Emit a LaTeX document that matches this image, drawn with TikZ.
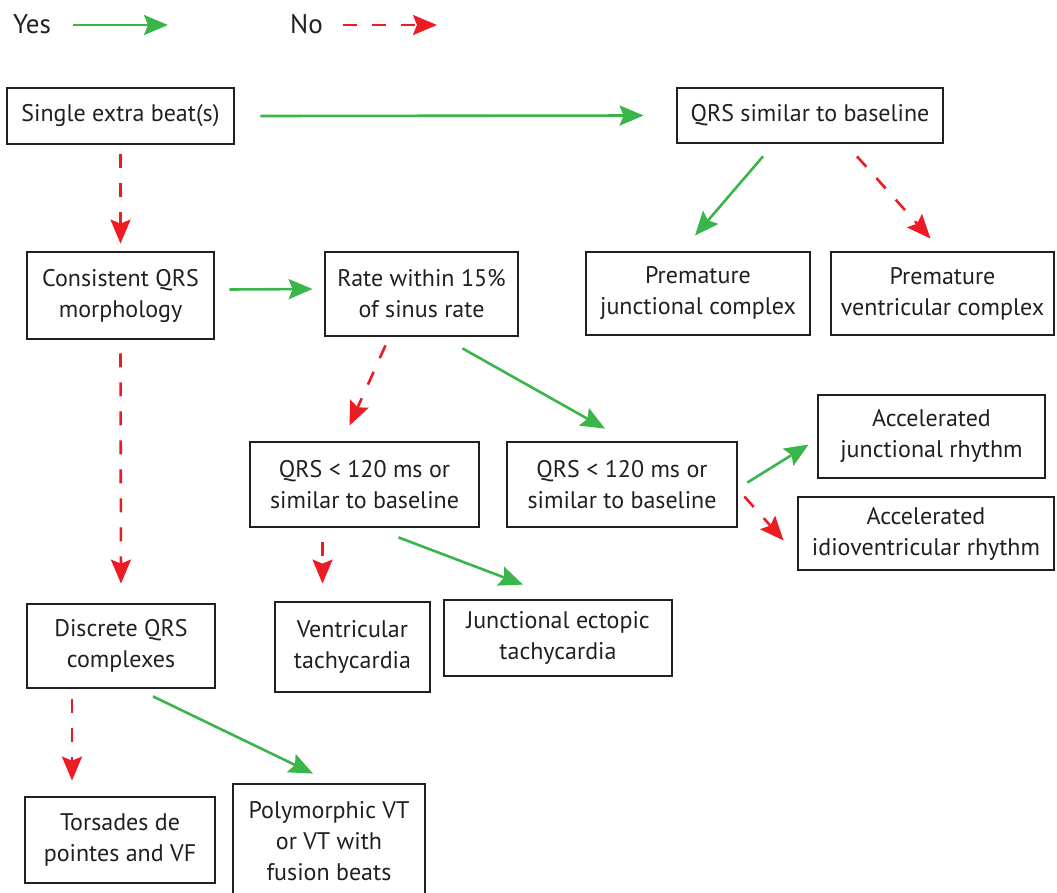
\documentclass[tikz,border=0pt]{standalone}
\usepackage{fontspec}
\setmainfont{PT Sans}
\usetikzlibrary{arrows.meta,calc}
\definecolor{ygreen}{RGB}{57,181,74}
\definecolor{nred}{RGB}{237,28,36}
\definecolor{txt}{RGB}{35,31,32}
\begin{document}
\begin{tikzpicture}[x=1pt,y=-1pt,
  box/.style={draw=txt,line width=2.8pt,align=center,text=txt,inner sep=0pt,
    font=\fontsize{24}{31}\selectfont},
  lbl/.style={text=txt,inner sep=0pt,font=\fontsize{27}{31}\selectfont},
  yes/.style={draw=ygreen,line width=2.6pt,-{Stealth[length=24pt,width=20pt,inset=4pt]}},
  no/.style={draw=nred,line width=2.6pt,dash pattern=on 14pt off 15pt,-{Stealth[length=24pt,width=20pt,inset=4pt]}}]
\useasboundingbox (0,0) rectangle (1057,892);
% legend
\node[lbl,anchor=west] (yl) at (13,24) {Yes};
\coordinate (ys) at (73,25);
\coordinate (ye) at (168,25);
\draw[yes] (ys) -- (ye);
\node[lbl,anchor=west] (nl) at (290,24) {No};
\coordinate (ns) at (343,25);
\coordinate (ne) at (437,25);
\draw[no] (ns) -- (ne);
% boxes
\node[box,minimum width=227pt,minimum height=56pt] (single) at (120.5,116) {Single extra beat(s)};
\node[box,minimum width=266pt,minimum height=55pt] (qsim) at (810,115.5) {QRS similar to baseline};
\node[box,minimum width=187pt,minimum height=87pt] (cons) at (120.5,295.5) {Consistent QRS\\morphology};
\node[box,minimum width=193pt,minimum height=84pt] (rate) at (421.5,294) {Rate within 15\%\\of sinus rate};
\node[box,minimum width=224pt,minimum height=83pt] (pjc) at (698,293.5) {Premature\\junctional complex};
\node[box,minimum width=223pt,minimum height=83pt] (pvc) at (942.5,293.5) {Premature\\ventricular complex};
\node[box,minimum width=227pt,minimum height=83pt] (ajr) at (931.5,436.5) {Accelerated\\junctional rhythm};
\node[box,minimum width=256pt,minimum height=73pt] (aivr) at (926,533.5) {Accelerated\\idioventricular rhythm};
\node[box,minimum width=229pt,minimum height=85pt] (qrsl) at (364.5,484.5) {QRS < 120 ms or\\similar to baseline};
\node[box,minimum width=230pt,minimum height=85pt] (qrsr) at (622,484.5) {QRS < 120 ms or\\similar to baseline};
\node[box,minimum width=155pt,minimum height=90pt] (vt) at (352.5,647) {Ventricular\\tachycardia};
\node[box,minimum width=228pt,minimum height=76pt] (jet) at (558,638) {Junctional ectopic\\tachycardia};
\node[box,minimum width=188pt,minimum height=84pt] (disc) at (121,646) {Discrete QRS\\complexes};
\node[box,minimum width=190pt,minimum height=86pt] (tors) at (120,840) {Torsades de\\pointes and VF};
\node[box,minimum width=192pt,minimum height=114pt] (poly) at (329,841) {Polymorphic VT\\or VT with\\fusion beats};
% connectors
\draw[yes] ([shift={(25,0)}]single.east) -- ([shift={(-32,0)}]qsim.west);
\draw[no] ([shift={(0,9)}]single.south) -- ([shift={(0,-7)}]cons.north);
\draw[yes] ([shift={(-47,12)}]qsim.south) -- ([shift={(-3,-15)}]pjc.north);
\draw[no] ([shift={(47,12)}]qsim.south) -- ([shift={(-12,-12)}]pvc.north);
\draw[yes] ([shift={(14,-6)}]cons.east) -- ([shift={(-11,-5)}]rate.west);
\draw[no] ([shift={(0,13)}]cons.south) -- ([shift={(0,-19)}]disc.north);
\draw[no] ([shift={(-36,8)}]rate.south) -- ([shift={(-15,-15)}]qrsl.north);
\draw[yes] ([shift={(41,11)}]rate.south) -- ([shift={(-17,-12)}]qrsr.north);
\draw[no] ([shift={(-42,14)}]qrsl.south) -- ([shift={(-30,-17)}]vt.north);
\draw[yes] ([shift={(34,9)}]qrsl.south) -- ([shift={(-35,-14)}]jet.north);
\draw[yes] ([shift={(9,-2)}]qrsr.east) -- ([shift={(-8,8)}]ajr.west);
\draw[no] ([shift={(6,12)}]qrsr.east) -- ([shift={(-13,7)}]aivr.west);
\draw[no] ([shift={(-49,10)}]disc.south) -- ([shift={(-48,-15)}]tors.north);
\draw[yes] ([shift={(32,7)}]disc.south) -- ([shift={(-16,-9)}]poly.north);
\end{tikzpicture}
\end{document}
